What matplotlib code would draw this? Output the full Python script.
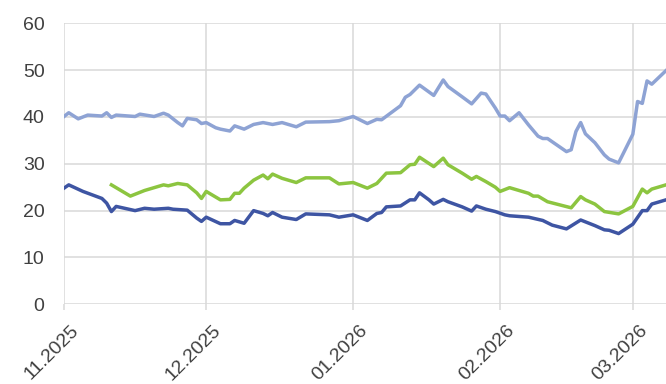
import matplotlib
matplotlib.use("Agg")
import matplotlib.pyplot as plt
import matplotlib.dates as mdates
import matplotlib.transforms as mtransforms
import pandas as pd

# light blue series
light_dates = [
    "2025-11-01", "2025-11-02", "2025-11-04", "2025-11-06", "2025-11-09", "2025-11-10",
    "2025-11-11", "2025-11-12", "2025-11-16", "2025-11-17", "2025-11-20", "2025-11-22",
    "2025-11-23", "2025-11-25", "2025-11-26", "2025-11-27", "2025-11-29", "2025-11-30",
    "2025-12-01", "2025-12-03", "2025-12-04", "2025-12-06", "2025-12-07", "2025-12-09",
    "2025-12-11", "2025-12-13", "2025-12-15", "2025-12-17", "2025-12-20", "2025-12-22",
    "2025-12-27", "2025-12-29", "2026-01-01", "2026-01-04", "2026-01-06", "2026-01-07",
    "2026-01-11", "2026-01-12", "2026-01-13", "2026-01-15", "2026-01-18", "2026-01-20",
    "2026-01-21", "2026-01-24", "2026-01-26", "2026-01-28", "2026-01-29", "2026-01-31",
    "2026-02-01", "2026-02-02", "2026-02-03", "2026-02-05", "2026-02-07", "2026-02-09",
    "2026-02-10", "2026-02-11", "2026-02-15", "2026-02-16", "2026-02-17", "2026-02-18",
    "2026-02-19", "2026-02-21", "2026-02-23", "2026-02-24", "2026-02-26", "2026-03-01",
    "2026-03-02", "2026-03-03", "2026-03-04", "2026-03-05", "2026-03-08",
]
light_values = [
    40.1, 40.9, 39.6, 40.4, 40.2, 40.9,
    39.9, 40.4, 40.1, 40.6, 40.1, 40.8,
    40.4, 38.8, 38.1, 39.7, 39.4, 38.6,
    38.8, 37.7, 37.4, 37.0, 38.1, 37.4,
    38.4, 38.8, 38.4, 38.8, 37.9, 38.9,
    39.0, 39.2, 40.1, 38.6, 39.5, 39.4,
    42.4, 44.2, 44.8, 46.8, 44.6, 47.9,
    46.5, 44.3, 42.8, 45.1, 44.9, 41.9,
    40.2, 40.2, 39.2, 40.9, 38.3, 35.9,
    35.4, 35.4, 32.6, 33.0, 36.9, 38.8,
    36.4, 34.5, 31.9, 31.0, 30.2, 36.3,
    43.3, 42.9, 47.7, 47.0, 49.9,
]

# green series
green_dates = [
    "2025-11-11", "2025-11-15", "2025-11-18", "2025-11-22", "2025-11-23", "2025-11-25",
    "2025-11-27", "2025-11-29", "2025-11-30", "2025-12-01", "2025-12-04", "2025-12-06",
    "2025-12-07", "2025-12-08", "2025-12-09", "2025-12-11", "2025-12-13", "2025-12-14",
    "2025-12-15", "2025-12-17", "2025-12-20", "2025-12-22", "2025-12-27", "2025-12-29",
    "2026-01-01", "2026-01-04", "2026-01-06", "2026-01-08", "2026-01-11", "2026-01-13",
    "2026-01-14", "2026-01-15", "2026-01-18", "2026-01-20", "2026-01-21", "2026-01-24",
    "2026-01-26", "2026-01-27", "2026-01-29", "2026-01-31", "2026-02-01", "2026-02-03",
    "2026-02-07", "2026-02-08", "2026-02-09", "2026-02-11", "2026-02-16", "2026-02-18",
    "2026-02-19", "2026-02-21", "2026-02-23", "2026-02-26", "2026-03-01", "2026-03-03",
    "2026-03-04", "2026-03-05", "2026-03-08",
]
green_values = [
    25.5, 23.1, 24.3, 25.5, 25.3, 25.8,
    25.5, 23.8, 22.6, 24.1, 22.3, 22.4,
    23.7, 23.7, 24.8, 26.5, 27.6, 26.8,
    27.8, 26.9, 26.0, 27.0, 27.0, 25.7,
    26.0, 24.8, 25.8, 28.0, 28.1, 29.8,
    29.9, 31.4, 29.4, 31.2, 29.8, 28.0,
    26.7, 27.3, 26.2, 25.0, 24.1, 24.9,
    23.7, 23.1, 23.1, 21.9, 20.6, 23.0,
    22.3, 21.4, 19.8, 19.3, 20.9, 24.6,
    23.8, 24.6, 25.5,
]

# dark blue series
dark_dates = [
    "2025-11-01", "2025-11-02", "2025-11-05", "2025-11-09", "2025-11-10", "2025-11-11",
    "2025-11-12", "2025-11-16", "2025-11-18", "2025-11-20", "2025-11-23", "2025-11-24",
    "2025-11-27", "2025-11-29", "2025-11-30", "2025-12-01", "2025-12-04", "2025-12-06",
    "2025-12-07", "2025-12-09", "2025-12-11", "2025-12-13", "2025-12-14", "2025-12-15",
    "2025-12-17", "2025-12-20", "2025-12-22", "2025-12-27", "2025-12-29", "2026-01-01",
    "2026-01-04", "2026-01-06", "2026-01-07", "2026-01-08", "2026-01-11", "2026-01-13",
    "2026-01-14", "2026-01-15", "2026-01-17", "2026-01-18", "2026-01-20", "2026-01-21",
    "2026-01-24", "2026-01-26", "2026-01-27", "2026-01-29", "2026-01-31", "2026-02-02",
    "2026-02-03", "2026-02-07", "2026-02-10", "2026-02-12", "2026-02-15", "2026-02-18",
    "2026-02-21", "2026-02-23", "2026-02-24", "2026-02-26", "2026-03-01", "2026-03-03",
    "2026-03-04", "2026-03-05", "2026-03-08",
]
dark_values = [
    24.8, 25.5, 24.1, 22.6, 21.6, 19.8,
    20.9, 20.0, 20.5, 20.3, 20.5, 20.3,
    20.1, 18.4, 17.7, 18.6, 17.2, 17.2,
    17.9, 17.3, 20.0, 19.4, 18.9, 19.6,
    18.6, 18.1, 19.3, 19.1, 18.6, 19.1,
    17.9, 19.4, 19.6, 20.8, 21.0, 22.3,
    22.3, 23.8, 22.3, 21.4, 22.4, 21.9,
    20.8, 19.9, 21.0, 20.3, 19.8, 19.1,
    18.9, 18.6, 17.9, 16.9, 16.1, 18.0,
    16.8, 15.9, 15.8, 15.1, 17.1, 20.0,
    20.0, 21.4, 22.3,
]

month_ticks = ["2025-11-01", "2025-12-01", "2026-01-01", "2026-02-01", "2026-03-01"]
y_ticks = [0, 10, 20, 30, 40, 50, 60]
x_range = ("2025-11-01", "2026-03-08")

plt.rcParams["font.family"] = ["Liberation Sans", "DejaVu Sans"]

GRID = "#D9D9D9"
TEXT = "#404040"

fig = plt.figure(figsize=(6.66, 3.84), dpi=100)
ax = fig.add_axes([0.0961, 0.2076, 0.9039, 0.7317])

ax.plot(pd.to_datetime(light_dates), light_values, color="#8EA3D4", linewidth=2.5, solid_joinstyle="round")
ax.plot(pd.to_datetime(green_dates), green_values, color="#8CC540", linewidth=2.5, solid_joinstyle="round")
ax.plot(pd.to_datetime(dark_dates), dark_values, color="#3E55A3", linewidth=2.5, solid_joinstyle="round")

ax.set_xlim(pd.to_datetime(x_range[0]), pd.to_datetime(x_range[1]))
ax.set_ylim(0, 60)
ax.set_yticks(y_ticks)
ax.set_xticks(pd.to_datetime(month_ticks))
ax.xaxis.set_major_formatter(mdates.DateFormatter("%m.%Y"))

ax.grid(True, color=GRID, linewidth=1.1)
ax.set_axisbelow(True)
for side in ["top", "right", "bottom", "left"]:
    ax.spines[side].set_visible(False)

ax.tick_params(axis="y", length=0, pad=14, labelsize=14, labelcolor=TEXT)
ax.tick_params(axis="x", length=4, width=1.1, color=GRID, pad=2, labelsize=14, labelcolor=TEXT)
shift = mtransforms.ScaledTranslation(0.06, -0.09, fig.dpi_scale_trans)
for lbl in ax.get_xticklabels():
    lbl.set_rotation(45)
    lbl.set_ha("right")
    lbl.set_va("top")
    lbl.set_rotation_mode("anchor")
    lbl.set_transform(lbl.get_transform() + shift)

fig.savefig("out.png", dpi=100)
